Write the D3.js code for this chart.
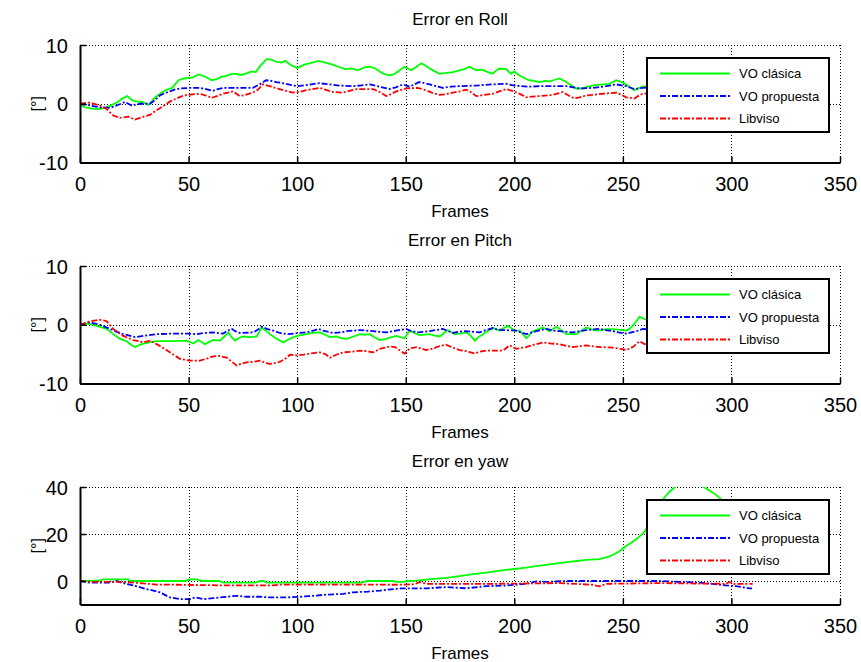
<!DOCTYPE html>
<html>
<head>
<meta charset="utf-8">
<script src="https://cdn.jsdelivr.net/npm/d3@7"></script>
<style>
  html, body { margin: 0; padding: 0; background: #fff; }
  svg { display: block; font-family: "Liberation Sans", Arial, sans-serif; }
</style>
</head>
<body>
<svg id="chart" width="861" height="662"></svg>
<script>
// Frame axis ticks and per-panel y ticks
const xTicks = [0, 50, 100, 150, 200, 250, 300, 350];
const rollTicks = [-10, 0, 10];
const pitchTicks = [-10, 0, 10];
const yawTicks = [0, 20, 40];
const seriesNames = ["VO clásica", "VO propuesta", "Libviso"];

// Roll error [frame, degrees]
const rollClasica = [[0,0],[2,-0.6],[5,-0.8],[8.6,-0.9],[11.7,-0.7],[14.8,-0.2],[17,0.2],[19.5,0.9],[21.8,1.3],[24,0.6],[26,0.4],[28.6,0.3],[31.6,-0.2],[34.7,1.1],[37,1.7],[39.3,2.3],[42.4,2.7],[45.4,4.0],[48,4.3],[50,4.4],[52,4.5],[54.6,5.0],[57.7,4.6],[60.7,4.0],[63,4.2],[65.3,4.6],[67,4.7],[69.9,5.1],[72,5.1],[74.5,4.9],[77,5.2],[79.1,5.5],[81,5.4],[82.9,6.4],[86,7.6],[88.3,7.5],[90,7.2],[91.4,7.1],[93,7.0],[94.5,7.3],[97,6.6],[99.9,6.1],[103.7,6.7],[106,6.9],[109.8,7.3],[113,7.0],[116,6.7],[119,6.3],[122,5.9],[125,6.0],[128,5.7],[131,6.2],[133.5,6.3],[136,6.0],[138,5.5],[140,5.1],[142.5,4.85],[144.5,5.0],[146.4,5.5],[149.5,6.3],[152.6,5.7],[155,6.3],[157.2,6.9],[159,6.5],[161,6.0],[163,5.6],[165.6,5.1],[168,5.2],[171.7,5.4],[174.8,5.7],[177,5.9],[179.4,6.3],[182.5,5.7],[185,5.8],[187,5.5],[190,5.1],[191.5,5.6],[193.2,6.0],[196.2,5.9],[198.5,5.1],[200,5.5],[202.4,4.8],[205,4.3],[207,4.0],[209,3.9],[211.6,3.7],[214,3.9],[216.2,3.8],[218,4.0],[220.8,4.3],[223.9,3.7],[226,3.2],[228.5,2.6],[231.6,2.6],[234,2.9],[236.2,3.1],[238,3.2],[240.8,3.3],[243.8,3.4],[246.9,4.0],[250,3.6],[253,2.9],[255.3,2.3],[257,2.6],[259,2.9],[262,3.0],[266,3.1]];
const rollPropuesta = [[0,0],[4.6,-0.3],[9.2,-0.6],[13.8,-0.7],[16.9,-0.3],[20.7,0.3],[23.8,-0.3],[27.6,0],[32.2,0],[34.5,0.6],[36.8,1.4],[39,1.8],[41.4,2.1],[43.5,2.4],[46,2.6],[50.6,2.7],[55.2,2.7],[58,2.5],[61.3,2.2],[63.5,2.5],[65.9,2.7],[70,2.7],[73.5,2.7],[79.6,2.7],[82.7,3.3],[85.7,4.0],[88,3.9],[90.3,3.7],[94.9,3.4],[97,3.2],[100,3.0],[105,3.2],[110,3.5],[115,3.3],[119.3,3.1],[125.4,3.0],[129,3.1],[133.5,3.3],[138,2.9],[142.5,2.5],[145.5,2.8],[148.7,3.3],[151.7,2.9],[156.3,3.7],[161,3.3],[164,3.0],[167,2.7],[171,2.9],[174.8,3.0],[182.5,3.1],[190,3.3],[196.2,3.4],[200,3.1],[203,3.0],[207,2.9],[212,3.0],[216.2,3.0],[223.9,3.0],[227,2.8],[230,2.6],[236.2,2.7],[242.3,3.0],[246.9,3.3],[251.5,3.0],[255.3,2.5],[259,2.7],[262,2.8],[266,2.8]];
const rollLibviso = [[0,0],[3.8,0.2],[6.5,0],[9.2,-0.3],[12.3,-0.9],[15.3,-2.0],[18.4,-2.4],[22.3,-2.2],[25.3,-2.7],[28.4,-2.3],[32.2,-1.9],[35.3,-1.1],[39.1,-0.2],[41.5,0.4],[44.5,0.9],[47,1.3],[49.1,1.5],[55.2,1.7],[58,1.4],[60.6,1.0],[63,1.3],[65.9,1.7],[70.5,2.1],[73.5,1.3],[76,1.5],[79.6,1.9],[82,2.4],[84.2,3.3],[88.1,2.9],[91.9,2.5],[95,2.2],[98,1.9],[101,2.0],[104.2,2.3],[107,2.5],[110.3,2.7],[113,2.4],[116.5,2.0],[121,1.9],[124,2.2],[127.2,2.5],[132.6,2.5],[135,2.5],[138,2.0],[141,1.3],[143,1.6],[145.6,2.1],[150.2,2.6],[155.6,2.7],[159.4,2.3],[162,1.9],[165.6,1.5],[168,1.6],[171.7,1.9],[175,2.1],[177.9,2.4],[180,2.0],[182.5,1.3],[186,1.5],[190,1.7],[193,2.1],[196.2,2.5],[200,2.1],[203,1.6],[205.5,1.1],[208,1.2],[211.6,1.3],[217.7,1.5],[222.3,2.0],[225,1.4],[227.7,0.9],[230,1.1],[233,1.4],[236,1.5],[240.8,1.7],[246.9,1.9],[249,1.6],[251.5,1.1],[255.3,0.9],[257,1.3],[259,1.7],[262,1.8],[266,1.8]];

// Pitch error [frame, degrees]
const pitchClasica = [[0,0],[3.8,0.2],[7.7,-0.2],[12.3,-0.7],[15.3,-1.6],[18.4,-2.4],[21.5,-2.8],[23.5,-3.4],[25.3,-3.8],[27,-3.5],[29.2,-3.2],[32,-3.0],[35.3,-2.8],[43,-2.8],[49.1,-2.7],[52.2,-3.2],[54.5,-2.6],[57.5,-3.3],[61.4,-2.6],[64.5,-2.7],[66.5,-2.0],[68.3,-1.3],[70,-2.2],[71.4,-2.7],[73,-2.3],[75.2,-2.0],[78.3,-2.1],[81.4,-2.0],[83.7,-0.45],[85.5,-1.0],[87.5,-1.6],[90.5,-2.4],[93.7,-3.0],[96,-2.5],[98.3,-2.1],[101,-1.8],[104.4,-1.6],[107,-1.4],[110.5,-1.3],[113,-1.7],[115.1,-2.1],[118.2,-2.0],[120.5,-2.3],[122.8,-2.4],[126,-2.0],[128.9,-1.6],[131,-1.7],[133.5,-1.6],[136,-2.2],[138,-2.6],[141,-2.4],[143.5,-2.1],[145.6,-1.9],[149.5,-2.3],[151.8,-1.0],[154,-1.4],[156.3,-1.75],[161,-1.6],[163,-1.8],[165.6,-2.0],[169.4,-0.9],[172.5,-1.6],[175,-1.5],[177.9,-1.3],[180,-1.9],[181.8,-2.7],[183.5,-2.1],[185.6,-1.6],[188,-1.0],[190.2,-0.56],[193.3,-1.0],[195,-0.6],[197.1,-0.17],[200.2,-1.0],[202.5,-1.0],[205.6,-2.3],[208.6,-1.1],[211,-0.8],[213.2,-0.45],[216.3,-1.1],[219.4,-0.34],[222,-1.0],[224,-1.6],[228.6,-1.6],[231,-1.0],[233.2,-0.45],[235.5,-0.8],[237.8,-1.0],[240,-0.9],[242.4,-0.73],[247,-0.8],[251.6,-1.0],[253,-0.7],[254.6,-0.17],[256,0.5],[257.7,1.36],[260,0.96],[263,0.9],[266,0.9]];
const pitchPropuesta = [[0,0],[4.6,0.4],[9.2,0],[13.8,-0.7],[17,-1.2],[19.9,-1.6],[25.3,-2.1],[29.2,-1.9],[35.3,-1.6],[43,-1.5],[49.1,-1.5],[53.7,-1.6],[57,-1.4],[61.4,-1.3],[66,-1.5],[68,-1.0],[69.9,-0.7],[71.5,-1.1],[73.7,-1.4],[79.9,-1.3],[82,-0.8],[83.7,-0.34],[86,-0.7],[89.1,-1.0],[92,-1.4],[95.2,-1.6],[101.3,-1.4],[104,-1.3],[107.5,-1.0],[109.8,-0.7],[112,-1.0],[116.7,-1.4],[120,-1.3],[122.8,-1.1],[128.9,-0.9],[132,-1.0],[135,-1.1],[141,-1.3],[145.6,-1.0],[150.2,-0.7],[152,-1.0],[155.6,-1.3],[161,-1.1],[164,-0.9],[167.1,-0.7],[169,-1.0],[171.7,-1.4],[174,-1.2],[177.9,-1.1],[184,-1.3],[187,-0.9],[190.2,-0.56],[192,-0.8],[194.8,-0.9],[200.9,-1.0],[203,-1.3],[205.6,-1.6],[208,-1.3],[210.2,-1.1],[214.8,-0.7],[218,-1.0],[220.9,-1.1],[227,-1.3],[230,-1.1],[233.2,-0.9],[239.3,-0.7],[242,-0.9],[245.5,-1.1],[248,-1.3],[251.6,-1.5],[254,-1.3],[256.2,-1.1],[259.2,-0.7],[262,-0.8],[266,-0.8]];
const pitchLibviso = [[0,0],[4.6,0.6],[9.2,0.85],[12.3,0.6],[15.3,-0.7],[19.9,-1.9],[24.5,-2.6],[29.2,-3.0],[32.2,-2.7],[36.8,-3.6],[41.4,-4.7],[46,-5.8],[50.6,-6.1],[55.3,-6.1],[58,-5.8],[61.4,-5.4],[64,-5.3],[67.5,-5.6],[70,-6.3],[72.1,-6.95],[74.5,-6.6],[76.7,-6.4],[80,-6.3],[82.9,-6.1],[85,-6.4],[87.5,-6.7],[90,-6.5],[92.1,-6.3],[94.5,-5.8],[96.7,-5.1],[99.7,-5.2],[103,-5.1],[105.9,-4.9],[110.5,-4.7],[113,-5.0],[115.1,-5.6],[118,-5.1],[121.2,-4.7],[125,-4.6],[128.9,-4.4],[132,-4.5],[135,-4.7],[138.1,-4.1],[140.5,-3.9],[142.5,-3.7],[145,-3.8],[147,-4.3],[149.5,-4.9],[152,-4.0],[154.9,-3.8],[159.4,-4.3],[163,-4.0],[165,-3.7],[168.6,-3.4],[171,-3.8],[174.8,-4.3],[178,-4.5],[181.7,-4.9],[184,-4.6],[187.1,-4.4],[194.8,-4.4],[197.9,-3.5],[200.9,-4.1],[205.5,-3.8],[209,-3.4],[213.2,-3.0],[217,-3.2],[220.9,-3.3],[224,-3.6],[227,-3.8],[233.2,-3.5],[239.3,-3.8],[245.5,-3.9],[249,-4.1],[251.6,-4.3],[254.6,-3.8],[257.7,-2.8],[260,-3.3],[263,-3.3],[266,-3.3]];

// Yaw error [frame, degrees]
const yawClasica = [[0,0],[8,0.1],[10.7,0.7],[22.2,0.7],[23,0],[48,0],[50.6,0.7],[54,0.7],[56,0],[64,0],[66,-0.7],[81,-0.7],[82.9,0],[84.5,0],[86,-0.7],[130,-0.7],[132,0],[144,0],[146,-0.4],[149,-0.4],[150.5,0],[155,0.2],[159.6,0.6],[164,1.0],[168.8,1.3],[173,1.9],[178,2.5],[182,3.0],[187.1,3.6],[191,4.1],[196.3,4.7],[200,5.1],[205.5,5.7],[210,6.3],[214.7,6.9],[219,7.4],[223.9,8.0],[228,8.4],[233.1,9.0],[239.2,9.3],[243.8,10.5],[246,11.4],[248.4,12.7],[251.5,14.9],[254,16.4],[256.1,17.8],[258,19.2],[260,21.0],[262,24.0],[264,28.5],[266,32.5],[268.6,34.9],[271.7,38.2],[274.8,40.6],[278,41.8],[282,41.8],[287,40.1],[291.7,37.5],[294.7,35.3],[298,32.0],[302,28.5],[306,25.0],[310,22.0]];
const yawPropuesta = [[0,0],[4.6,-0.7],[13.8,-0.7],[16.9,0],[19.9,-0.9],[24.5,-1.9],[30.6,-3.4],[36.8,-4.8],[41.4,-7.0],[46,-7.7],[50.6,-7.7],[53,-7.0],[56.8,-7.7],[61.4,-7.3],[67.5,-6.7],[72.1,-6.3],[76.7,-6.7],[82.9,-6.7],[87.5,-7.0],[95.1,-7.0],[101.3,-6.7],[107.4,-6.3],[113.5,-5.8],[121.2,-5.5],[125.8,-4.8],[132.7,-4.5],[138.2,-4.1],[147.4,-3.1],[159.6,-3.1],[168.8,-2.6],[178,-3.1],[187.1,-2.2],[196.3,-1.9],[205.5,-1.2],[210.1,-0.15],[214.7,-0.4],[223.9,0],[236.2,0],[251.5,0],[266.8,0],[276,-0.4],[285.2,-0.7],[291.3,-1.2],[297.5,-1.9],[302.1,-2.2],[308.2,-3.1],[309.5,-3.1]];
const yawLibviso = [[0,0],[6.1,-0.4],[19.9,-0.4],[27.6,-0.9],[35.3,-1.5],[45,-1.6],[69,-1.9],[89,-1.9],[92.1,-1.5],[132.7,-1.5],[144.3,-1.6],[154,-1.4],[156.6,-0.4],[159.6,-1.2],[190.2,-1.2],[220.9,-0.9],[236.2,-1.6],[239.2,-2.3],[242.3,-1.2],[266.8,-0.9],[297.5,-1.2],[299,-0.4],[301,-1.2],[309.8,-1.2]];

const panels = [
  { title: "Error en Roll",  top: 45,  domain: [-10, 10], ticks: rollTicks,  series: [rollClasica, rollPropuesta, rollLibviso] },
  { title: "Error en Pitch", top: 266, domain: [-10, 10], ticks: pitchTicks, series: [pitchClasica, pitchPropuesta, pitchLibviso] },
  { title: "Error en yaw",   top: 487, domain: [-10, 40], ticks: yawTicks,   series: [yawClasica, yawPropuesta, yawLibviso] }
];

const colors = ["#00ff00", "#0000ff", "#ff0000"];
const dashes = [null, "6,2,2,2", "6,2,2,2"];
const plain = d => String(d); // hyphen-minus tick labels

const svg = d3.select("#chart");
svg.append("rect").attr("width", 861).attr("height", 662).attr("fill", "#fff");

const left = 80, right = 840, plotH = 117.5;
const x = d3.scaleLinear().domain([0, 350]).range([left, right]);

panels.forEach((p, i) => {
  const top = p.top, bottom = top + plotH;
  const y = d3.scaleLinear().domain(p.domain).range([bottom, top]);
  const g = svg.append("g");

  // dotted grid, snapped to whole pixels so the dots stay dark
  const grid = g.append("g").attr("stroke", "#000").attr("stroke-width", 1)
    .attr("stroke-dasharray", "1,2").attr("shape-rendering", "crispEdges");
  const snap = v => Math.round(v) + 0.5;
  xTicks.filter(t => t > 0 && t < 350).forEach(t => {
    grid.append("line").attr("x1", snap(x(t))).attr("x2", snap(x(t))).attr("y1", top).attr("y2", bottom);
  });
  p.ticks.filter(t => t > p.domain[0] && t < p.domain[1]).forEach(t => {
    grid.append("line").attr("x1", left).attr("x2", right).attr("y1", snap(y(t))).attr("y2", snap(y(t)));
  });
  // top and right edges drawn dotted, like the inner grid
  grid.append("line").attr("x1", left).attr("x2", right).attr("y1", snap(top)).attr("y2", snap(top));
  grid.append("line").attr("x1", snap(right)).attr("x2", snap(right)).attr("y1", top).attr("y2", bottom);

  // clipped data lines
  const clipId = "clip" + i;
  svg.append("clipPath").attr("id", clipId)
    .append("rect").attr("x", left).attr("y", top).attr("width", right - left).attr("height", plotH);
  const line = d3.line().x(d => x(d[0])).y(d => y(d[1]));
  const lines = g.append("g").attr("clip-path", `url(#${clipId})`);
  p.series.forEach((s, k) => {
    lines.append("path").datum(s)
      .attr("d", line)
      .attr("fill", "none")
      .attr("stroke", colors[k])
      .attr("stroke-width", 1.8)
      .attr("stroke-dasharray", dashes[k]);
  });

  // axes: bottom and left solid, ticks pointing inward
  const xAxis = d3.axisBottom(x).tickValues(xTicks).tickFormat(plain).tickSizeInner(-6).tickSizeOuter(0).tickPadding(14);
  const ax = g.append("g").attr("transform", `translate(0,${bottom})`).call(xAxis);
  const yAxis = d3.axisLeft(y).tickValues(p.ticks).tickFormat(plain).tickSizeInner(-6).tickSizeOuter(0).tickPadding(12);
  const ay = g.append("g").attr("transform", `translate(${left},0)`).call(yAxis);
  [ax, ay].forEach(a => {
    a.select(".domain").attr("stroke", "#000").attr("stroke-width", 2);
    a.selectAll(".tick line").attr("stroke", "#000").attr("stroke-width", 1.5);
    a.selectAll(".tick text").attr("fill", "#000").style("font-size", "20px")
      .style("font-family", "'Liberation Sans', Arial, sans-serif");
  });
  ax.selectAll(".tick text").attr("dy", "0.71em");
  ay.selectAll(".tick text").attr("dy", "0.36em");

  // title and axis labels
  g.append("text").attr("x", (left + right) / 2).attr("y", top - 20)
    .attr("text-anchor", "middle").style("font-size", "17px").text(p.title);
  g.append("text").attr("x", (left + right) / 2).attr("y", bottom + 54)
    .attr("text-anchor", "middle").style("font-size", "17px").text("Frames");
  g.append("text").attr("transform", `translate(43,${(top + bottom) / 2}) rotate(-90)`)
    .attr("text-anchor", "middle").style("font-size", "16px").text("[°]");

  // legend
  const lg = g.append("g").attr("transform", `translate(647,${top + 13})`);
  lg.append("rect").attr("width", 182).attr("height", 74)
    .attr("fill", "#fff").attr("stroke", "#000").attr("stroke-width", 2);
  seriesNames.forEach((name, k) => {
    const yy = 15.5 + k * 22.5;
    lg.append("line").attr("x1", 13).attr("x2", 83).attr("y1", yy).attr("y2", yy)
      .attr("stroke", colors[k]).attr("stroke-width", 1.8).attr("stroke-dasharray", dashes[k]);
    lg.append("text").attr("x", 92).attr("y", yy).attr("dy", "0.35em")
      .style("font-size", "13px").text(name);
  });
});
</script>
</body>
</html>
